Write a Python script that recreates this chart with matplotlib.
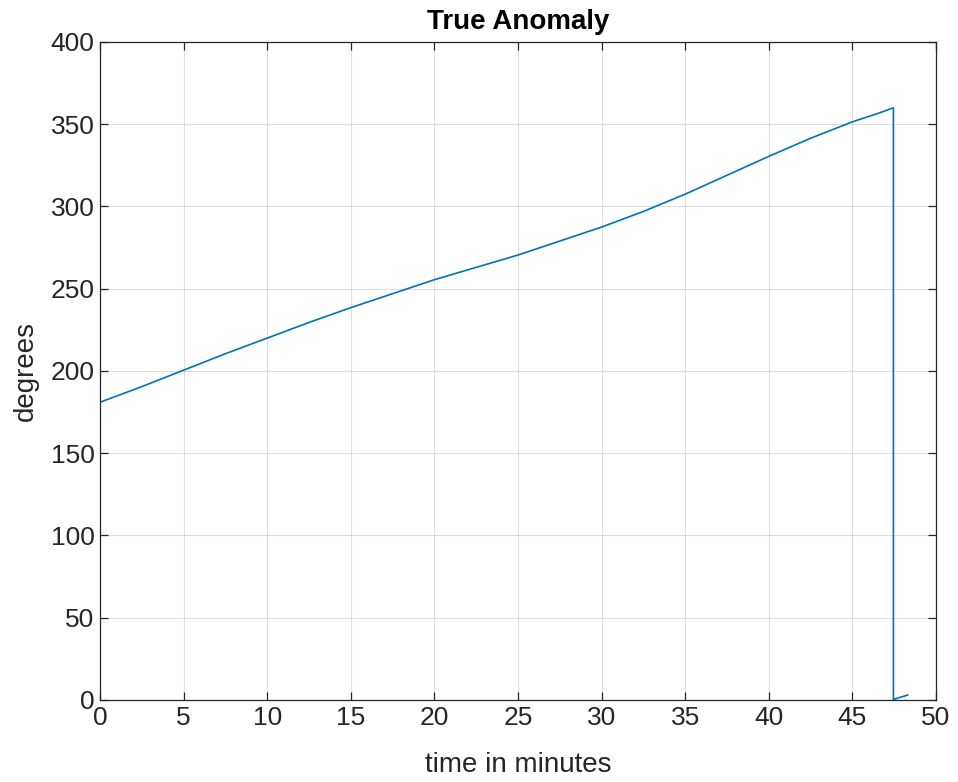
import numpy as np
import matplotlib.pyplot as plt

# time (minutes) and true anomaly (degrees)
time_min = [0, 2.5, 5, 7.5, 10, 12.5, 15, 17.5, 20, 22.5, 25, 27.5, 30,
            32.5, 35, 37.5, 40, 42.5, 45, 46.5, 47.45, 47.45, 48.3]
anomaly_deg = [181, 190.5, 200.5, 210.5, 220, 229.5, 238.5, 247, 255.5, 263, 270.5, 279, 287.5,
               297, 307.5, 319, 330.5, 341.5, 351.5, 356.5, 360, 0.3, 3]

x_ticks = np.arange(0, 51, 5)
y_ticks = np.arange(0, 401, 50)

plt.rcParams['font.family'] = ['Liberation Sans', 'DejaVu Sans']

fig = plt.figure(figsize=(9.58, 7.82), dpi=100)
ax = fig.add_axes([0.1044, 0.1049, 0.8727, 0.8414])

ax.plot(time_min, anomaly_deg, color='#0072BD', linewidth=1.2)

ax.set_xlim(0, 50)
ax.set_ylim(0, 400)
ax.set_xticks(x_ticks)
ax.set_yticks(y_ticks)
ax.grid(True, color='#262626', alpha=0.15, linewidth=0.8)
ax.set_axisbelow(True)

for s in ax.spines.values():
    s.set_color('#262626')
    s.set_linewidth(0.9)
ax.tick_params(direction='in', length=6, width=0.9, colors='#262626',
               labelsize=19, top=True, right=True, labeltop=False, labelright=False, pad=4)

ax.set_title('True Anomaly', fontsize=20, fontweight='bold', pad=9)
ax.set_xlabel('time in minutes', fontsize=20, color='#262626', labelpad=16)
ax.set_ylabel('degrees', fontsize=20, color='#262626', labelpad=8)

fig.savefig('out.png', dpi=100)
